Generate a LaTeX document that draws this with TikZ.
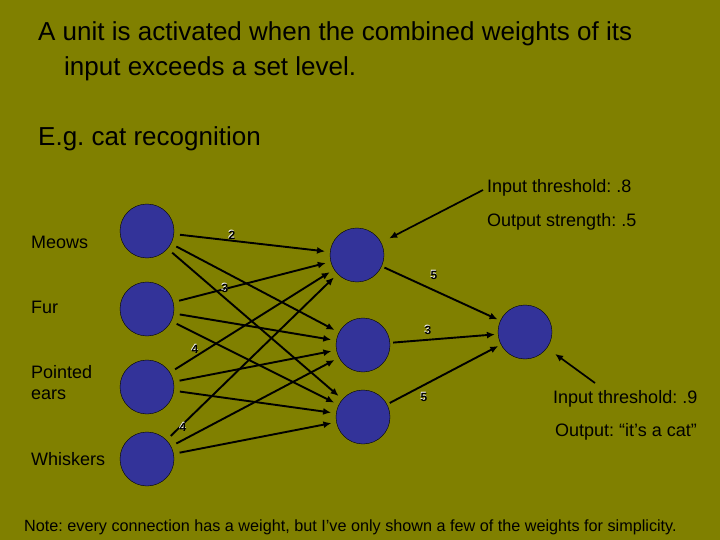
\documentclass[tikz,border=0pt]{standalone}
\usepackage{fontspec}
\setmainfont{Liberation Sans}
\usetikzlibrary{arrows.meta,positioning}
\definecolor{slOlive}{RGB}{128,128,0}
\definecolor{slBlue} {RGB}{ 51, 51,153}
\frenchspacing

% small weight digit with a light edge
\newcommand{\wdigit}[1]{\makebox[0pt][l]{\hspace{-0.6pt}\raisebox{0.4pt}{\textcolor{white}{#1}}}#1}

\begin{document}
\begin{tikzpicture}[
  x=1pt,y=-1pt,
  >={Latex[length=8pt,width=7pt]},
  unit/.style={circle,draw=black,thin,fill=slBlue,minimum size=54pt,inner sep=0pt},
  title/.style={anchor=base west,inner sep=0pt,align=left,
                font=\fontsize{26}{35}\selectfont},
  lbl/.style={anchor=west,inner sep=0pt,align=left,
              font=\fontsize{18}{21}\selectfont},
  wt/.style={inner sep=0pt,font=\fontsize{12}{12}\selectfont\bfseries},
  link/.style={->,line width=1.9pt,shorten <=6pt,shorten >=5pt},
  note/.style={->,line width=1.7pt}
]
\fill[slOlive] (0,0) rectangle (720,540);
\useasboundingbox (0,0) rectangle (720,540);

\node[title] (head) at (38,76)  {A unit is activated when the combined weights of its\\
                                  \hspace{26pt}input exceeds a set level.};
\node[title] (eg)   at (38,146) {E.g. cat recognition};

% units
\node[unit] (i1)  at (147,231) {};
\node[unit] (i2)  at (147,309) {};
\node[unit] (i3)  at (147,387) {};
\node[unit] (i4)  at (147,459) {};
\node[unit] (h1)  at (357,255) {};
\node[unit] (h2)  at (363,345) {};
\node[unit] (h3)  at (363,417) {};
\node[unit] (out) at (525,332) {};

% input labels
\node[lbl] (meows) at (31,242) {Meows};
\node[lbl] (fur)   at (31,307) {Fur};
\node[lbl] (ears)  at (31,383) {Pointed\\ears};
\node[lbl] (whisk) at (31,459) {Whiskers};

\node[lbl] (thr1) at (487,188) {Input threshold: .8};
\node[lbl] (str1) at (487,222) {Output strength: .5};
\node[lbl] (thr2) at (553,399) {Input threshold: .9};
\node[lbl] (res)  at (555,432) {Output: “it’s a cat”};

\foreach \i in {1,...,4}
  \foreach \j in {1,2,3}
    \draw[link] (i\i) -- (h\j);
\foreach \j in {1,2,3}
  \draw[link,shorten <=3pt,shorten >=3pt] (h\j) -- (out);

\coordinate (tail1) at (483,190);
\coordinate (tail2) at (595,383);
\draw[note,shorten >=9pt]  (tail1) -- (h1);
\draw[note,shorten >=10pt] (tail2) -- (out);

% weights
\node[wt] (w1) at (232,235) {\wdigit{2}};
\node[wt] (w2) at (225,288) {\wdigit{3}};
\node[wt] (w3) at (195,349) {\wdigit{4}};
\node[wt] (w4) at (183,427) {\wdigit{4}};
\node[wt] (w5) at (434,275) {\wdigit{5}};
\node[wt] (w6) at (428,330) {\wdigit{3}};
\node[wt] (w7) at (424,397) {\wdigit{5}};

\node[anchor=west,inner sep=0pt,font=\fontsize{16.2}{18}\selectfont] (foot) at (24,527)
  {Note: every connection has a weight, but I’ve only shown a few of the weights for simplicity.};
\end{tikzpicture}
\end{document}
